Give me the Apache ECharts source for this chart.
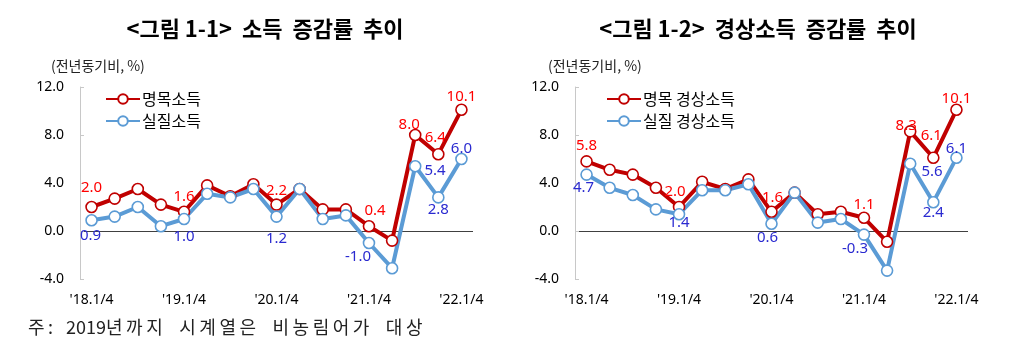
<!DOCTYPE html>
<html>
<head>
<meta charset="utf-8">
<script src="https://cdn.jsdelivr.net/npm/echarts@6/dist/echarts.min.js"></script>
<style>
  html, body { margin: 0; padding: 0; background: #fff; }
  #chart { width: 1031px; height: 351px; }
</style>
</head>
<body>
<div id="chart"></div>
<script>
// 분기 (2018.1/4 ~ 2022.1/4)
const quarters = [
  "'18.1/4", "'18.2/4", "'18.3/4", "'18.4/4",
  "'19.1/4", "'19.2/4", "'19.3/4", "'19.4/4",
  "'20.1/4", "'20.2/4", "'20.3/4", "'20.4/4",
  "'21.1/4", "'21.2/4", "'21.3/4", "'21.4/4",
  "'22.1/4"
]

// <그림 1-1> 소득 증감률
const nominalIncome = [2.0, 2.7, 3.5, 2.2, 1.6, 3.8, 2.9, 3.9, 2.2, 3.5, 1.8, 1.8, 0.4, -0.8, 8.0, 6.4, 10.1]
const realIncome = [0.9, 1.2, 2.0, 0.4, 1.0, 3.1, 2.8, 3.5, 1.2, 3.5, 1.0, 1.3, -1.0, -3.1, 5.4, 2.8, 6.0]

// <그림 1-2> 경상소득 증감률
const nominalCurrent = [5.8, 5.1, 4.7, 3.6, 2.0, 4.1, 3.5, 4.3, 1.6, 3.2, 1.4, 1.6, 1.1, -0.9, 8.3, 6.1, 10.1]
const realCurrent = [4.7, 3.6, 3.0, 1.8, 1.4, 3.4, 3.4, 3.9, 0.6, 3.2, 0.7, 1.0, -0.3, -3.3, 5.6, 2.4, 6.1]

const yTicks = [-4, 0, 4, 8, 12]

const note = '주: 2019년까지 시계열은 비농림어가 대상'

const RED = '#c00000'
const BLUE = '#5b9bd5'
const RED_LABEL = '#ff0000'
const BLUE_LABEL = '#2a2ad0'

// 값 레이블 위치 (index -> [position, dx, dy])
const labelsNominal1 = { 0: ['top', 0, 0], 4: ['top', 0, 4], 8: ['top', 0, 5], 12: ['top', 6, 3], 14: ['top', -6, 9], 15: ['top', -3, 2], 16: ['top', 0, 6] }
const labelsReal1 = { 0: ['bottom', -1, -3], 4: ['bottom', 0, -1], 8: ['bottom', 0, 3], 12: ['bottom', -11, -5], 14: ['right', -2, 5], 15: ['bottom', 0, -6], 16: ['top', 0, 9] }
const labelsNominal2 = { 0: ['top', 0, 3], 4: ['top', -4, 4], 8: ['top', 1, 5], 12: ['top', 0, 6], 14: ['top', -4, 13], 15: ['top', -2, -3], 16: ['top', 0, 8] }
const labelsReal2 = { 0: ['bottom', -3, -6], 4: ['bottom', 0, -10], 8: ['bottom', -4, -5], 12: ['bottom', -9, -5], 14: ['right', 0, 8], 15: ['bottom', 0, -8], 16: ['top', 0, 10] }

const FONT = '"Noto Sans CJK KR", "Noto Sans", sans-serif'
const NUM_FONT = '"Noto Sans", sans-serif'

function buildData(values, labels, color) {
  return values.map((v, i) => {
    const lb = labels[i]
    return {
      value: v,
      label: lb ? {
        show: true,
        position: lb[0],
        offset: [lb[1], lb[2]],
        color: color,
        fontSize: 15,
        fontFamily: NUM_FONT,
        formatter: (p) => p.value.toFixed(1)
      } : { show: false }
    }
  })
}

function lineSeries(name, values, labels, color, labelColor, idx) {
  return {
    name: name,
    type: 'line',
    xAxisIndex: idx,
    yAxisIndex: idx,
    data: buildData(values, labels, labelColor),
    symbol: 'circle',
    symbolSize: 11,
    lineStyle: { color: color, width: 4 },
    itemStyle: { color: '#fff', borderColor: color, borderWidth: 1.6 },
    emphasis: { disabled: true },
    animation: false
  }
}

function xAxis(idx) {
  return {
    type: 'category',
    gridIndex: idx,
    data: quarters,
    boundaryGap: true,
    axisLine: { show: false, onZero: false },
    axisTick: { show: false },
    axisLabel: { interval: 3, margin: 14, color: '#000', fontSize: 14, fontFamily: NUM_FONT },
    splitLine: { show: false }
  }
}

function yAxis(idx) {
  return {
    type: 'value',
    gridIndex: idx,
    min: yTicks[0],
    max: yTicks[yTicks.length - 1],
    interval: 4,
    axisLine: { show: true, lineStyle: { color: '#c8c8c8', width: 1 } },
    axisTick: { show: true, inside: true, length: 4, lineStyle: { color: '#c8c8c8' } },
    axisLabel: { margin: 16, color: '#000', fontSize: 14, fontFamily: NUM_FONT, formatter: (v) => v.toFixed(1) },
    splitLine: {
      show: true,
      lineStyle: { color: yTicks.map(t => t === 0 ? '#404040' : 'rgba(0,0,0,0)'), width: 1 }
    }
  }
}

function legend(left, names) {
  return {
    left: left,
    top: 86,
    orient: 'vertical',
    itemWidth: 34,
    itemHeight: 12,
    itemGap: 6,
    data: names,
    textStyle: { fontSize: 16, color: '#000', fontFamily: FONT, padding: [0, 0, 0, -3] },
    selectedMode: false
  }
}

// 주석: 자간을 넓혀 글자별로 배치
function spacedText(text, x0, y, size) {
  const ctx = document.createElement('canvas').getContext('2d')
  ctx.font = size + 'px ' + FONT
  let x = x0
  const out = []
  for (const ch of text) {
    const w = ctx.measureText(ch).width
    if (ch !== ' ') {
      out.push({ type: 'text', x: x, y: y, style: { text: ch, fontSize: size, fill: '#222', fontFamily: FONT } })
    }
    const hangul = /[\uac00-\ud7a3]/.test(ch)
    x += w + (hangul ? 3.5 : 0) + (ch === ' ' ? 9 : 0)
  }
  return out
}

const chart = echarts.init(document.getElementById('chart'))

chart.setOption({
  backgroundColor: '#fff',
  animation: false,
  title: [
    { text: '<그림 1-1>  소득  증감률  추이', left: 260, textAlign: 'center', top: 13,
      textStyle: { fontSize: 22, fontWeight: 'bold', color: '#000', fontFamily: FONT } },
    { text: '<그림 1-2>  경상소득  증감률  추이', left: 753, textAlign: 'center', top: 13,
      textStyle: { fontSize: 22, fontWeight: 'bold', color: '#000', fontFamily: FONT } },
    { text: '(전년동기비, %)', left: 46, top: 54,
      textStyle: { fontSize: 14, fontWeight: 'normal', color: '#222', fontFamily: FONT } },
    { text: '(전년동기비, %)', left: 543, top: 54,
      textStyle: { fontSize: 14, fontWeight: 'normal', color: '#222', fontFamily: FONT } }
  ],
  graphic: spacedText(note, 28, 318, 18),
  legend: [
    legend(100, ['명목소득', '실질소득']),
    legend(601, ['명목 경상소득', '실질 경상소득'])
  ],
  grid: [
    { left: 80, right: 558, top: 87, bottom: 72 },
    { left: 575, right: 63, top: 87, bottom: 72 }
  ],
  xAxis: [xAxis(0), xAxis(1)],
  yAxis: [yAxis(0), yAxis(1)],
  series: [
    lineSeries('명목소득', nominalIncome, labelsNominal1, RED, RED_LABEL, 0),
    lineSeries('실질소득', realIncome, labelsReal1, BLUE, BLUE_LABEL, 0),
    lineSeries('명목 경상소득', nominalCurrent, labelsNominal2, RED, RED_LABEL, 1),
    lineSeries('실질 경상소득', realCurrent, labelsReal2, BLUE, BLUE_LABEL, 1)
  ]
})
</script>
</body>
</html>
